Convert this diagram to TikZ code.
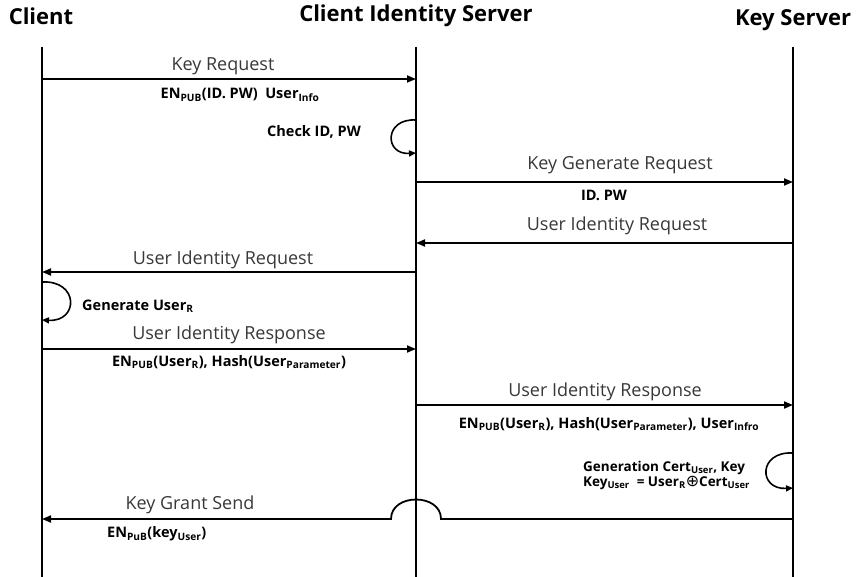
\documentclass[tikz,border=0pt]{standalone}
\usepackage{fontspec}
\setmainfont{Open Sans}
\newfontfamily\dvsym{DejaVu Sans}
\usetikzlibrary{arrows.meta}
\newcommand\sbs[1]{\textsubscript{#1}}
\begin{document}
\begin{tikzpicture}[x=1pt,y=-1pt,
  lifeline/.style={line width=2.5pt},
  msg/.style={line width=1.8pt,-{Triangle[length=9pt,width=7pt]}},
  selfloop/.style={line width=1.6pt,-{Triangle[length=7pt,width=6pt]}},
  head/.style={font=\bfseries\fontsize{22}{24}\selectfont,inner sep=0pt},
  lbl/.style={font=\fontsize{18}{20}\selectfont,text=black!78,inner sep=0pt},
  note/.style={font=\bfseries\fontsize{14.5}{16}\selectfont,inner sep=0pt}]
\useasboundingbox (0,0) rectangle (858,577);

% participants
\node[head] (hC) at (41,16) {Client};
\node[head] (hI) at (416,16) {Client Identity Server};
\node[head] (hK) at (793,20) {Key Server};

% lifelines
\coordinate (cT) at (42,47);  \coordinate (cB) at (42,577);
\coordinate (iT) at (416,47); \coordinate (iB) at (416,577);
\coordinate (kT) at (793,47); \coordinate (kB) at (793,577);
\draw[lifeline] (cT) -- (cB);
\draw[lifeline] (iT) -- (iB);
\draw[lifeline] (kT) -- (kB);

% 1: key request
\coordinate (c1) at (42,79); \coordinate (i1) at (416,79);
\draw[msg] (c1) -- (i1);
\node[lbl] (m1) at (223,66) {Key Request};
\node[note] (n1) at (240,95) {EN\sbs{PUB}(ID. PW)\ \ User\sbs{Info}};

% 2: check on the identity server
\coordinate (i2a) at (416,120); \coordinate (i2b) at (416,153);
\draw[selfloop] (i2a) .. controls (384,118) and (384,155) .. (i2b);
\node[note] (n2) at (314,132) {Check ID, PW};

% 3: key generate request
\coordinate (i3) at (416,182); \coordinate (k3) at (793,182);
\draw[msg] (i3) -- (k3);
\node[lbl] (m3) at (620,165) {Key Generate Request};
\node[note] (n3) at (604,195) {ID. PW};

% 4: user identity request to the identity server
\coordinate (k4) at (793,243); \coordinate (i4) at (416,243);
\draw[msg] (k4) -- (i4);
\node[lbl] (m4) at (617,226) {User Identity Request};

% 5: user identity request to the client
\coordinate (i5) at (416,272); \coordinate (c5) at (42,272);
\draw[msg] (i5) -- (c5);
\node[lbl] (m5) at (223,260) {User Identity Request};

% 6: client generates User_R
\coordinate (c6a) at (42,282); \coordinate (c6b) at (42,320);
\draw[selfloop] (c6a) .. controls (79,280) and (79,322) .. (c6b);
\node[note,anchor=west] (n6) at (82,306) {Generate User\sbs{R}};

% 7: user identity response to the identity server
\coordinate (c7) at (42,349); \coordinate (i7) at (416,349);
\draw[msg] (c7) -- (i7);
\node[lbl] (m7) at (229,335) {User Identity Response};
\node[note] (n7) at (229,362) {EN\sbs{PUB}(User\sbs{R}), Hash(User\sbs{Parameter})};

% 8: user identity response to the key server
\coordinate (i8) at (416,405); \coordinate (k8) at (793,405);
\draw[msg] (i8) -- (k8);
\node[lbl] (m8) at (605,392) {User Identity Response};
\node[note] (n8) at (609,424) {EN\sbs{PUB}(User\sbs{R}), Hash(User\sbs{Parameter}), User\sbs{Infro}};

% 9: key server builds the user key
\coordinate (k9a) at (793,453); \coordinate (k9b) at (793,488);
\draw[selfloop] (k9a) .. controls (758,451) and (758,490) .. (k9b);
\node[note,anchor=west,align=left,font=\bfseries\fontsize{13.5}{15}\selectfont] (n9) at (583,475)
  {Generation Cert\sbs{User}, Key\\Key\sbs{User}\ \ = User\sbs{R}{\dvsym\mdseries\fontsize{16}{15}\selectfont ⊕}Cert\sbs{User}};

% 10: key grant, hopping over the identity server lifeline
\coordinate (k10) at (793,519); \coordinate (hopR) at (441,519);
\coordinate (hopL) at (391,519); \coordinate (c10) at (42,519);
\draw[msg] (k10) -- (hopR) .. controls (441,493) and (391,493) .. (hopL) -- (c10);
\node[lbl] (m10) at (190,505) {Key Grant Send};
\node[note,anchor=west] (n10) at (107,534) {EN\sbs{PuB}(key\sbs{User})};
\end{tikzpicture}
\end{document}
